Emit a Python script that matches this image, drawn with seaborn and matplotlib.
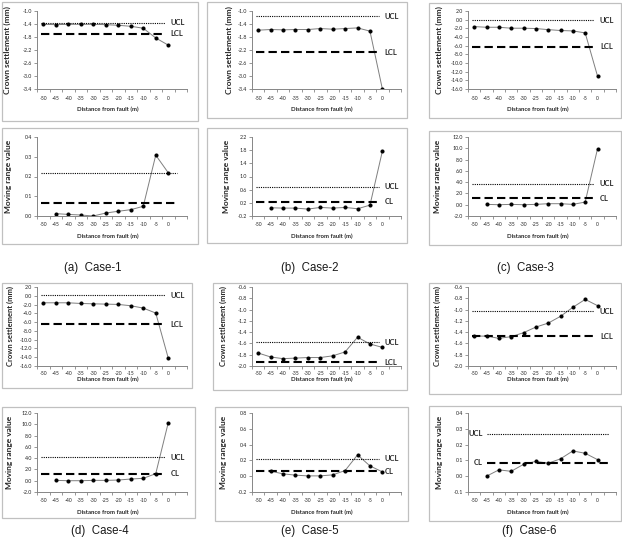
import numpy as np
import pandas as pd
import matplotlib.pyplot as plt
import seaborn as sns
from matplotlib.patches import Rectangle

sns.set_style("white")
plt.rcParams['font.family'] = ['Lato', 'DejaVu Sans']
plt.rcParams['axes.unicode_minus'] = False

W, H = 622, 548

# distance from fault (m)
dist = [-50, -45, -40, -35, -30, -25, -20, -15, -10, -5, 0]
dist_mr = dist[1:]

# crown settlement (mm) per case
settle_1 = [-1.41, -1.42, -1.41, -1.41, -1.41, -1.42, -1.44, -1.47, -1.53, -1.83, -2.05]
settle_2 = [-1.59, -1.57, -1.58, -1.57, -1.57, -1.54, -1.56, -1.54, -1.52, -1.62, -3.40]
settle_3 = [-1.6, -1.75, -1.75, -1.97, -1.97, -2.05, -2.3, -2.5, -2.6, -3.05, -13.0]
settle_4 = [-1.6, -1.6, -1.6, -1.75, -1.83, -1.9, -1.97, -2.27, -2.8, -3.94, -14.2]
settle_5 = [-1.77, -1.84, -1.87, -1.86, -1.85, -1.85, -1.82, -1.75, -1.49, -1.61, -1.67]
settle_6 = [-1.47, -1.47, -1.51, -1.48, -1.41, -1.31, -1.24, -1.12, -0.96, -0.82, -0.93]

# moving range value per case
mr_1 = [0.012, 0.008, 0.005, 0.0, 0.015, 0.024, 0.032, 0.049, 0.308, 0.219]
mr_2 = [0.05, 0.04, 0.04, 0.01, 0.06, 0.04, 0.06, 0.02, 0.13, 1.77]
mr_3 = [0.06, 0.0, 0.06, 0.0, 0.06, 0.18, 0.18, 0.06, 0.47, 9.9]
mr_4 = [0.06, 0.0, 0.0, 0.06, 0.06, 0.12, 0.3, 0.42, 1.25, 10.27]
mr_5 = [0.063, 0.03, 0.013, 0.004, 0.004, 0.017, 0.072, 0.27, 0.13, 0.055]
mr_6 = [0.0, 0.04, 0.031, 0.075, 0.094, 0.082, 0.11, 0.16, 0.145, 0.105]

# control limits
ucl_settle = [-1.36, -1.16, -0.15, 0.15, -1.58, -1.03]
lcl_settle = [-1.70, -2.27, -6.2, -6.5, -1.93, -1.47]
ucl_mr = [0.220, 0.69, 3.7, 4.15, 0.22, 0.27]
cl_mr = [0.066, 0.23, 1.12, 1.25, 0.063, 0.085]

# axis ranges (min, max, step)
settle_range = [(-3.4, -1.0, 0.4), (-3.4, -1.0, 0.4), (-16, 2, 2),
                (-16, 2, 2), (-2.0, -0.6, 0.2), (-2.0, -0.6, 0.2)]
mr_range = [(0, 0.4, 0.1), (-0.2, 2.2, 0.4), (-2, 12, 2),
            (-2, 12, 2), (-0.2, 0.8, 0.2), (-0.1, 0.4, 0.1)]

captions = ['(a)  Case-1', '(b)  Case-2', '(c)  Case-3',
            '(d)  Case-4', '(e)  Case-5', '(f)  Case-6']

settle_all = [settle_1, settle_2, settle_3, settle_4, settle_5, settle_6]
mr_all = [mr_1, mr_2, mr_3, mr_4, mr_5, mr_6]

# layout in pixels
col_x = [(37, 187), (252, 401), (468, 616)]
row_y = [((11, 89), (137, 216)), ((287, 366), (413, 492))]
frames = [((2, 2, 198, 121), (2, 128, 198, 244)),
          ((207, 2, 407, 118), (207, 128, 407, 243)),
          ((429, 3, 621, 118), (429, 131, 621, 245)),
          ((2, 283, 192, 388), (2, 407, 195, 518)),
          ((213, 283, 407, 390), (215, 407, 408, 521)),
          ((429, 283, 621, 394), (429, 406, 621, 521))]
ylab_x = [(11, 12), (233, 230), (443, 441), (14, 13), (227, 227), (441, 443)]
xlab_gap = [(20, 20), (20, 20), (20, 20), (13, 20), (13, 20), (13, 20)]
caption_pos = [(93, 268), (310, 268), (525, 268), (100, 531), (310, 531), (529, 531)]

spine_c = '#868686'
text_c = '#262626'

fig = plt.figure(figsize=(W / 100, H / 100), dpi=100)


def px_axes(x0, x1, y0, y1):
    return fig.add_axes([x0 / W, 1 - y1 / H, (x1 - x0) / W, (y1 - y0) / H])


def frame(x0, y0, x1, y1):
    fig.add_artist(Rectangle((x0 / W, 1 - y1 / H), (x1 - x0) / W, (y1 - y0) / H,
                             transform=fig.transFigure, fill=False,
                             edgecolor='#c0c0c0', lw=0.9))


def style(ax, rng, ylabel, ylx, gap, pad, ysize):
    lo, hi, step = rng
    ax.set_ylim(lo, hi)
    ax.set_yticks(np.arange(lo, hi + step / 2, step))
    ax.yaxis.set_major_formatter(plt.FormatStrFormatter('%.1f'))
    ax.set_xlim(-52.5, 7.5)
    ax.set_xticks(dist)
    ax.set_xticklabels([str(d) for d in dist])
    ax.set_xticks(np.arange(-52.5, 8, 5), minor=True)
    ax.tick_params(axis='x', which='major', length=0, pad=pad, labelsize=3.6, labelcolor=text_c)
    ax.tick_params(axis='x', which='minor', length=2.2, width=0.6, color=spine_c, direction='out', bottom=True)
    ax.tick_params(axis='y', length=2.2, width=0.6, color=spine_c, direction='out', left=True,
                   pad=1.5, labelsize=3.8, labelcolor=text_c)
    for s in ['top', 'right']:
        ax.spines[s].set_visible(False)
    for s in ['left', 'bottom']:
        ax.spines[s].set_color(spine_c)
        ax.spines[s].set_linewidth(0.7)
    bb = ax.get_position()
    w_px = bb.width * W
    h_px = bb.height * H
    x0_px = bb.x0 * W
    ax.set_ylabel(ylabel, fontsize=ysize, fontweight='bold', color=text_c)
    ax.yaxis.set_label_coords((ylx - x0_px) / w_px, 0.5)
    ax.set_xlabel('Distance from fault (m)', fontsize=4.3, fontweight='bold', color=text_c)
    ax.xaxis.label.set_va('center')
    ax.xaxis.set_label_coords(0.47, -gap / h_px)
    ax.set_facecolor('white')


def limit_line(ax, val, ls, lw, label, side):
    if side == 'right':
        x0, x1 = -51, -1.5
    elif side == 'left':
        x0, x1 = -45, 4.5
    else:
        x0, x1 = -51, 3.5
    ax.hlines(val, x0, x1, colors='black', linestyles=ls, lw=lw)
    if side == 'right':
        ax.text(1.0, val, label, ha='left', va='center', fontsize=5.5,
                fontweight='bold', color=text_c)
    elif side == 'left':
        ax.text(-46.5, val, label, ha='right', va='center', fontsize=5.5,
                fontweight='bold', color=text_c)


line_kw = dict(color='#7f7f7f', lw=0.7, marker='o', markersize=2.2,
               markerfacecolor='black', markeredgecolor='black')

for i in range(6):
    r, c = divmod(i, 3)
    (top_y, bot_y) = row_y[r]
    cx0, cx1 = col_x[c]
    frame(*frames[i][0])
    frame(*frames[i][1])

    # crown settlement
    ax = px_axes(cx0, cx1, top_y[0], top_y[1])
    sns.lineplot(x=dist, y=settle_all[i], ax=ax, **line_kw)
    limit_line(ax, ucl_settle[i], (0, (1, 1)), 0.8, 'UCL', 'right')
    limit_line(ax, lcl_settle[i], (0, (4, 2)), 1.5, 'LCL', 'right')
    style(ax, settle_range[i], 'Crown settlement (mm)', ylab_x[i][0], xlab_gap[i][0],
          5 if r == 0 else 3.5, 6 if r == 0 else 5.5)

    # moving range
    ax = px_axes(cx0, cx1, bot_y[0], bot_y[1])
    sns.lineplot(x=dist_mr, y=mr_all[i], ax=ax, **line_kw)
    side = 'none' if i == 0 else ('left' if i == 5 else 'right')
    limit_line(ax, ucl_mr[i], (0, (1, 1)), 0.8, 'UCL', side)
    limit_line(ax, cl_mr[i], (0, (4, 2)), 1.5, 'CL', side)
    style(ax, mr_range[i], 'Moving range value', ylab_x[i][1], xlab_gap[i][1], 4.5, 6)

    px, py = caption_pos[i]
    fig.text(px / W, 1 - py / H, captions[i], ha='center', va='center',
             fontsize=8.3, family=['Liberation Sans', 'DejaVu Sans'], color='#1a1a1a')

fig.savefig('out.png', dpi=100)
